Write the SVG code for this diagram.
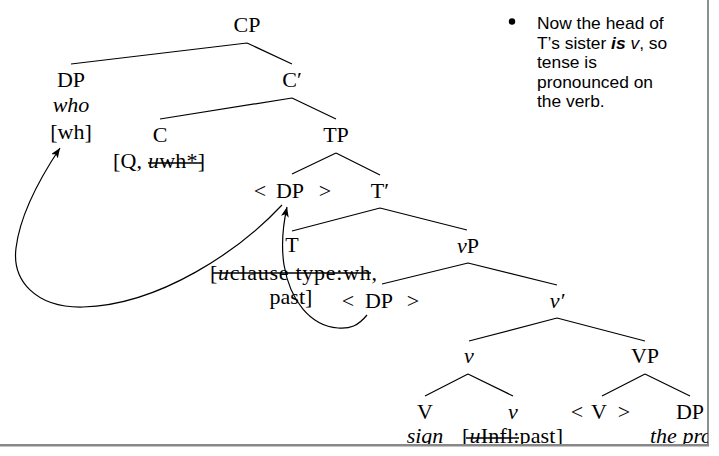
<svg xmlns="http://www.w3.org/2000/svg" width="719" height="456" viewBox="0 0 719 456">
<style>
.t{font-family:"Liberation Serif","Times New Roman",serif;font-size:22px;fill:#000;text-anchor:middle}
.l{text-anchor:start}
.i{font-style:italic}
.e{stroke:#000;stroke-width:1.2;fill:none}
.s{stroke:#000;stroke-width:1.6}
.arr{stroke:#000;stroke-width:1.2;fill:none;marker-end:url(#ah)}
.b{font-family:"Liberation Sans",Arial,sans-serif;font-size:17.4px;fill:#000}
</style>
<defs>
<marker id="ah" markerUnits="userSpaceOnUse" markerWidth="12" markerHeight="10" refX="10" refY="4" orient="auto"><path d="M0,0 L10,4 L0,8 L2.5,4 Z" fill="#000"/></marker>
<clipPath id="clip"><rect x="0" y="0" width="708" height="444"/></clipPath>
</defs>
<rect width="719" height="456" fill="#fff"/>
<g clip-path="url(#clip)">
<g id="edges">
<path class="e" d="M247,43 L71,64 M247,43 L292,64"/>
<path class="e" d="M292,98 L160,119 M292,98 L336,119"/>
<path class="e" d="M336,153 L292,174 M336,153 L380,175"/>
<path class="e" d="M380,208 L292,231 M380,208 L467,230"/>
<path class="e" d="M468,263 L382,284 M468,263 L557,285"/>
<path class="e" d="M557,318 L469,341 M557,318 L645,341"/>
<path class="e" d="M468,374 L425,396 M468,374 L513,396"/>
<path class="e" d="M645,374 L602,396 M645,374 L690,396"/>
<path class="arr" d="M282,205 C240,250 160,305 83,307 C35,308 12,280 16,248 C20,215 40,178 60,148"/>
<path class="arr" d="M367,315 C358,326 350,329 338,328 C310,326 290,300 284,265 C281,245 283,225 287,207"/>
</g>
<g id="CP"><text class="t" x="247" y="32">CP</text></g>
<g id="DP-who"><text class="t" x="71" y="87">DP</text><text class="t i" x="71" y="112">who</text><text class="t" x="71" y="139">[wh]</text></g>
<g id="Cbar"><text class="t" x="292" y="87">C′</text></g>
<g id="C"><text class="t" x="160" y="142">C</text><text class="t l" x="113" y="168" textLength="92">[Q, <tspan class="i">u</tspan>wh*]</text><line class="s" x1="148" y1="163" x2="202" y2="163"/></g>
<g id="TP"><text class="t" x="336" y="142">TP</text></g>
<g id="DP-trace1"><text class="t" y="198"><tspan x="260">&lt;</tspan><tspan x="290">DP</tspan><tspan x="325">&gt;</tspan></text></g>
<g id="Tbar"><text class="t" x="380" y="198">T′</text></g>
<g id="T"><text class="t" x="292" y="252">T</text><text class="t l" x="210" y="280" textLength="167">[<tspan class="i">u</tspan>clause type:wh,</text><line class="s" x1="213" y1="273" x2="371" y2="273"/><text class="t" x="291" y="304">past]</text></g>
<g id="vP"><text class="t" x="468" y="253"><tspan class="i">v</tspan>P</text></g>
<g id="DP-trace2"><text class="t" y="308"><tspan x="348">&lt;</tspan><tspan x="379">DP</tspan><tspan x="413">&gt;</tspan></text></g>
<g id="vbar"><text class="t i" x="557" y="308">v′</text></g>
<g id="v"><text class="t i" x="469" y="363">v</text></g>
<g id="VP"><text class="t" x="645" y="363">VP</text></g>
<g id="V"><text class="t" x="425" y="418.5">V</text><text class="t i" x="425" y="442.5">sign</text></g>
<g id="v-head"><text class="t i" x="513" y="418.5">v</text><text class="t l" x="462" y="442.5" textLength="101">[<tspan class="i">u</tspan>Infl:past]</text><line class="s" x1="466" y1="438" x2="519" y2="438"/></g>
<g id="V-trace"><text class="t" y="418.5"><tspan x="577">&lt;</tspan><tspan x="599">V</tspan><tspan x="624">&gt;</tspan></text></g>
<g id="DP-obj"><text class="t" x="690" y="418.5">DP</text><text class="t l i" x="650" y="442.5">the pro</text></g>
</g>
<line x1="708" y1="0" x2="708" y2="444" stroke="#444" stroke-width="1.2"/>
<line x1="0" y1="445.3" x2="709" y2="445.3" stroke="#888" stroke-width="2.5"/>
<g id="bullet-text">
<circle cx="512" cy="21.5" r="3.2" fill="#000"/>
<text class="b" x="537" y="29">Now the head of</text>
<text class="b" x="537" y="48.5">T’s sister <tspan font-weight="bold" font-style="italic">is</tspan> <tspan font-style="italic">v</tspan>, so</text>
<text class="b" x="537" y="68">tense is</text>
<text class="b" x="537" y="87.5">pronounced on</text>
<text class="b" x="537" y="107">the verb.</text>
</g>
</svg>
